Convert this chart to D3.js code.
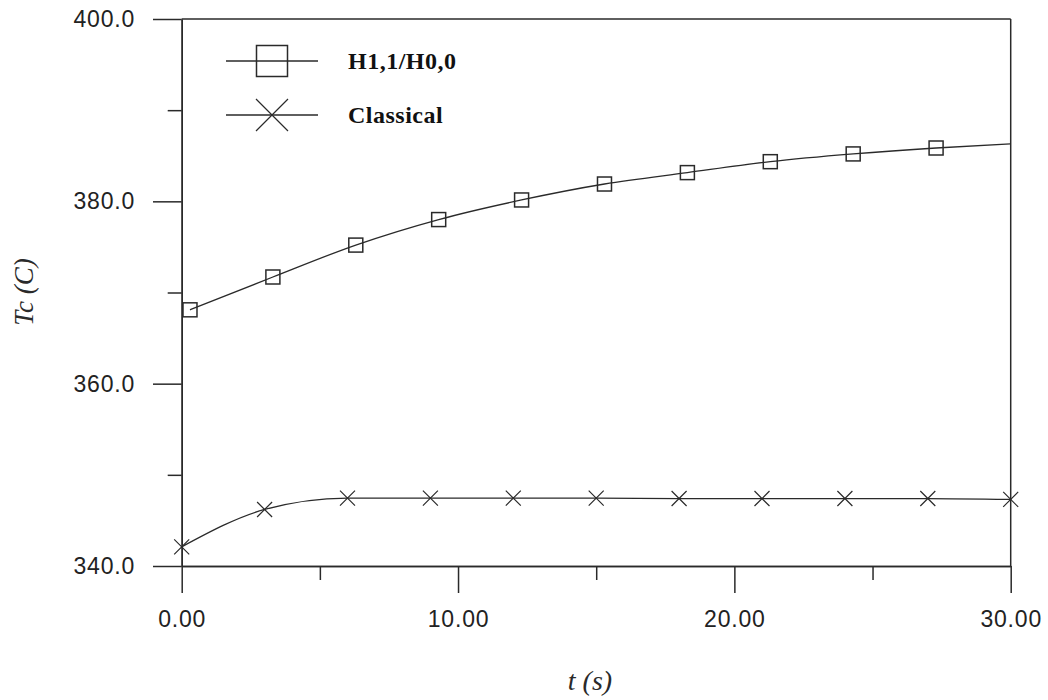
<!DOCTYPE html>
<html>
<head>
<meta charset="utf-8">
<script src="https://cdn.jsdelivr.net/npm/d3@7"></script>
<style>
  body { margin: 0; background: #fff; }
  svg { display: block; }
  .tick text { font-family: "Liberation Sans", Arial, sans-serif; font-size: 23px; fill: #222; letter-spacing: 0.8px; }
</style>
</head>
<body>
<div id="chart"></div>
<script>
// data
var h1Times = [0.3, 3.3, 6.3, 9.3, 12.3, 15.3, 18.3, 21.3, 24.3, 27.3, 30];
var h1Values = [368.1, 371.7, 375.2, 378.0, 380.15, 381.9, 383.15, 384.35, 385.2, 385.85, 386.3];
var classicTimes = [0, 3, 6, 9, 12, 15, 18, 21, 24, 27, 30];
var classicValues = [342.1, 346.2, 347.45, 347.45, 347.45, 347.45, 347.4, 347.4, 347.4, 347.4, 347.3];

var xMajor = [0, 10, 20, 30];
var xMinor = [5, 15, 25];
var yMajor = [340, 360, 380, 400];
var yMinor = [350, 370, 390];

var legendNames = ["H1,1/H0,0", "Classical"];

var width = 1048, height = 700;
var x = d3.scaleLinear().domain([0, 30]).range([181.7, 1010.7]);
var y = d3.scaleLinear().domain([340, 400]).range([566, 19]);

var svg = d3.select("#chart").append("svg")
    .attr("width", width)
    .attr("height", height);

var ink = "#2a2a2a";

// axes: major ticks with labels, minor ticks without
function styleAxis(g) {
    g.selectAll(".domain").attr("stroke", ink).attr("stroke-width", 1.5);
    g.selectAll(".tick line").attr("stroke", ink).attr("stroke-width", 1.5);
}

svg.append("g")
    .attr("transform", "translate(0," + y(340) + ")")
    .call(d3.axisBottom(x).tickValues(xMajor).tickSize(27).tickSizeOuter(0)
        .tickPadding(18).tickFormat(d3.format(".2f")))
    .call(styleAxis);

svg.append("g")
    .attr("transform", "translate(0," + y(340) + ")")
    .call(d3.axisBottom(x).tickValues(xMinor).tickSize(14).tickSizeOuter(0).tickFormat(""))
    .call(styleAxis);

svg.append("g")
    .attr("transform", "translate(" + x(0) + ",0)")
    .call(d3.axisLeft(y).tickValues(yMajor).tickSize(28.7).tickSizeOuter(0)
        .tickPadding(18).tickFormat(d3.format(".1f")))
    .call(styleAxis);

svg.append("g")
    .attr("transform", "translate(" + x(0) + ",0)")
    .call(d3.axisLeft(y).tickValues(yMinor).tickSize(14).tickSizeOuter(0).tickFormat(""))
    .call(styleAxis);

// top and right frame lines
svg.append("line")
    .attr("x1", x(0)).attr("x2", x(30))
    .attr("y1", y(400)).attr("y2", y(400))
    .attr("stroke", ink).attr("stroke-width", 1.5);
svg.append("line")
    .attr("x1", x(30)).attr("x2", x(30))
    .attr("y1", y(400)).attr("y2", y(340))
    .attr("stroke", ink).attr("stroke-width", 1.5);

// axis titles
svg.append("text")
    .attr("transform", "translate(33," + 292 + ") rotate(-90)")
    .attr("text-anchor", "middle")
    .style("font-family", "'Liberation Serif', 'Times New Roman', serif")
    .style("font-style", "italic")
    .style("font-size", "27px")
    .attr("fill", ink)
    .text("Tc (C)");

svg.append("text")
    .attr("x", 590)
    .attr("y", 690)
    .attr("text-anchor", "middle")
    .style("font-family", "'Liberation Serif', 'Times New Roman', serif")
    .style("font-style", "italic")
    .style("font-size", "28px")
    .attr("fill", ink)
    .text("t (s)");

// series lines
var line = d3.line()
    .x(function(d) { return x(d[0]); })
    .y(function(d) { return y(d[1]); })
    .curve(d3.curveMonotoneX);

var h1Data = h1Times.map(function(t, i) { return [t, h1Values[i]]; });
var classicData = classicTimes.map(function(t, i) { return [t, classicValues[i]]; });

svg.append("path")
    .datum(h1Data)
    .attr("d", line)
    .attr("fill", "none")
    .attr("stroke", ink)
    .attr("stroke-width", 1.3);

svg.append("path")
    .datum(classicData)
    .attr("d", line)
    .attr("fill", "none")
    .attr("stroke", ink)
    .attr("stroke-width", 1.3);

// markers
function drawSquare(g, cx, cy, s, w) {
    g.append("rect")
        .attr("x", cx - s / 2).attr("y", cy - s / 2)
        .attr("width", s).attr("height", s)
        .attr("fill", "none")
        .attr("stroke", ink)
        .attr("stroke-width", w);
}
function drawCross(g, cx, cy, s, w) {
    var h = s / 2;
    g.append("path")
        .attr("d", "M" + (cx - h) + "," + (cy - h) + "L" + (cx + h) + "," + (cy + h) +
                   "M" + (cx - h) + "," + (cy + h) + "L" + (cx + h) + "," + (cy - h))
        .attr("fill", "none")
        .attr("stroke", ink)
        .attr("stroke-width", w);
}

var marks = svg.append("g");
// the last H1 point is the curve end at the right axis, it has no marker
h1Data.slice(0, h1Data.length - 1).forEach(function(d) {
    drawSquare(marks, x(d[0]), y(d[1]), 14, 1.5);
});
classicData.forEach(function(d) {
    drawCross(marks, x(d[0]), y(d[1]), 15, 1.2);
});

// legend
var legend = svg.append("g");
var legendY = [61, 115];
legendNames.forEach(function(name, i) {
    legend.append("line")
        .attr("x1", 226).attr("x2", 318)
        .attr("y1", legendY[i]).attr("y2", legendY[i])
        .attr("stroke", ink).attr("stroke-width", 1.3);
    if (i == 0) drawSquare(legend, 272, legendY[i], 31, 1.5);
    else drawCross(legend, 272, legendY[i], 32, 1.2);
    legend.append("text")
        .attr("x", 348)
        .attr("y", legendY[i] + 8)
        .style("font-family", "'Liberation Serif', 'Times New Roman', serif")
        .style("font-weight", "bold")
        .style("font-size", "24px")
        .style("letter-spacing", "0.5px")
        .attr("fill", "#111")
        .text(name);
});
</script>
</body>
</html>
